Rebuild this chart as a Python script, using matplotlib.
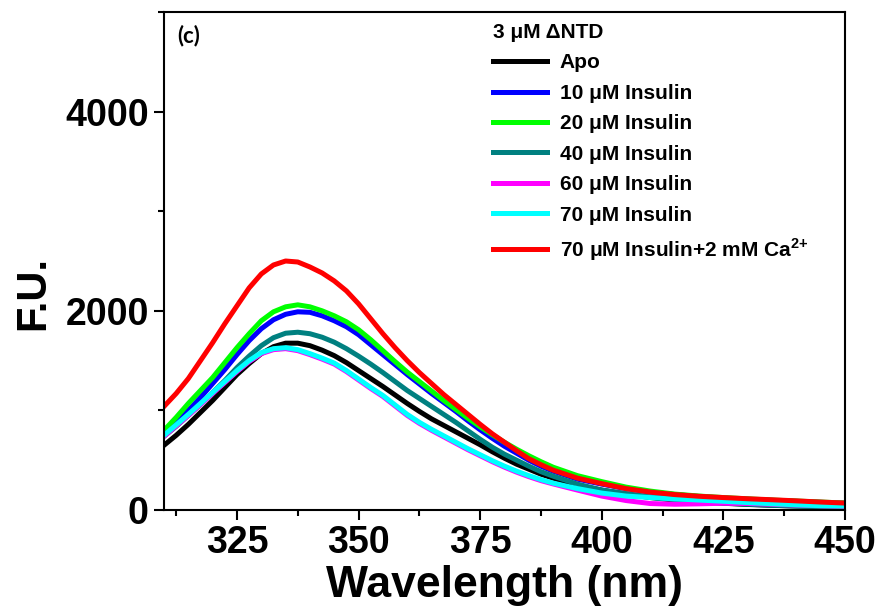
import matplotlib
matplotlib.use("Agg")
import matplotlib.pyplot as plt
from matplotlib.ticker import MultipleLocator

plt.rcParams['font.family'] = ['Liberation Sans', 'DejaVu Sans']
plt.rcParams['font.weight'] = 'bold'
plt.rcParams['mathtext.fontset'] = 'custom'
plt.rcParams['mathtext.rm'] = 'Liberation Sans:bold'
plt.rcParams['mathtext.bf'] = 'Liberation Sans:bold'

# emission wavelength (nm)
wavelength = [310, 312.5, 315, 317.5, 320, 322.5, 325, 327.5, 330, 332.5, 335, 337.5, 340,
              342.5, 345, 347.5, 350, 352.5, 355, 357.5, 360, 362.5, 365, 367.5, 370, 372.5,
              375, 377.5, 380, 382.5, 385, 387.5, 390, 395, 400, 405, 410, 415, 420, 425,
              430, 435, 440, 445, 450]

# fluorescence units
apo = [650, 750, 860, 980, 1100, 1230, 1360, 1470, 1570, 1640, 1675, 1675, 1650,
       1605, 1550, 1480, 1400, 1320, 1240, 1155, 1070, 990, 915, 850, 785, 720,
       655, 585, 520, 460, 410, 360, 320, 250, 200, 160, 125, 100, 82, 68,
       56, 47, 40, 34, 30]
ins10 = [760, 880, 1000, 1130, 1270, 1410, 1560, 1700, 1820, 1910, 1965, 1990, 1985,
         1950, 1900, 1840, 1760, 1660, 1560, 1460, 1360, 1265, 1170, 1080, 990, 895,
         805, 720, 640, 570, 500, 440, 390, 310, 260, 215, 180, 155, 135, 120,
         108, 97, 87, 77, 68]
ins20 = [800, 930, 1070, 1200, 1330, 1480, 1630, 1770, 1900, 1990, 2040, 2060, 2040,
         2000, 1950, 1890, 1810, 1710, 1600, 1490, 1385, 1290, 1195, 1100, 1010, 920,
         835, 755, 680, 610, 545, 485, 430, 345, 285, 230, 190, 160, 140, 125,
         112, 100, 90, 80, 70]
ins40 = [740, 840, 950, 1060, 1180, 1300, 1430, 1545, 1650, 1730, 1775, 1785, 1770,
         1735, 1685, 1620, 1545, 1465, 1380, 1290, 1200, 1120, 1040, 960, 880, 795,
         710, 630, 560, 500, 440, 385, 340, 260, 200, 165, 130, 105, 85, 70,
         58, 48, 40, 34, 30]
ins60 = [740, 845, 950, 1060, 1170, 1280, 1390, 1490, 1570, 1610, 1620, 1600, 1560,
         1515, 1465, 1390, 1305, 1220, 1140, 1045, 950, 870, 800, 735, 670, 605,
         545, 485, 430, 380, 335, 295, 262, 200, 140, 95, 65, 58, 62, 68,
         66, 58, 50, 43, 38]
ins70 = [750, 855, 960, 1070, 1180, 1290, 1400, 1500, 1580, 1620, 1630, 1610, 1570,
         1525, 1475, 1400, 1315, 1230, 1150, 1055, 960, 880, 810, 745, 680, 615,
         555, 495, 440, 390, 345, 305, 270, 215, 170, 140, 125, 112, 100, 88,
         75, 63, 52, 44, 40]
ins70_ca = [1040, 1170, 1320, 1500, 1680, 1870, 2050, 2230, 2370, 2460, 2500, 2490, 2440,
            2380, 2300, 2200, 2070, 1920, 1770, 1630, 1500, 1380, 1270, 1160, 1060, 960,
            860, 765, 680, 595, 515, 455, 400, 320, 265, 215, 180, 155, 138, 125,
            113, 103, 92, 80, 70]

series = [apo, ins10, ins20, ins40, ins60, ins70, ins70_ca]
labels = ['Apo', '10 μM Insulin', '20 μM Insulin', '40 μM Insulin', '60 μM Insulin',
          '70 μM Insulin', '70 μM Insulin+2 mM Ca$^{2{+}}$']
colors = ['#000000', '#0000ff', '#00ff00', '#008080', '#ff00ff', '#00ffff', '#ff0000']

fig = plt.figure(figsize=(8.79, 6.15), dpi=100)
ax = fig.add_axes([0.1866, 0.1707, 0.7747, 0.8098])

for y, lab, c in zip(series, labels, colors):
    ax.plot(wavelength, y, color=c, lw=3.6, label=lab, solid_joinstyle='round')

ax.set_xlim(310, 450)
ax.set_ylim(0, 5000)
ax.xaxis.set_major_locator(MultipleLocator(25))
ax.xaxis.set_minor_locator(MultipleLocator(12.5))
ax.yaxis.set_major_locator(MultipleLocator(2000))
ax.yaxis.set_minor_locator(MultipleLocator(1000))

for s in ax.spines.values():
    s.set_linewidth(1.5)
ax.tick_params(which='major', direction='out', length=7, width=1.5, labelsize=27, pad=4)
ax.tick_params(which='minor', direction='out', length=4, width=1.5)
for t in ax.get_xticklabels() + ax.get_yticklabels():
    t.set_fontweight('bold')

ax.set_xlabel('Wavelength (nm)', fontsize=32, fontweight='bold')
ax.set_ylabel('F.U.', fontsize=30, fontweight='bold')
ax.xaxis.set_label_coords(0.5, -0.11)
ax.yaxis.set_label_coords(-0.163, 0.436)

ax.text(0.02, 0.975, '(c)', transform=ax.transAxes, fontsize=16, fontweight='bold',
        family=['Lato', 'DejaVu Sans'], va='top', ha='left')

leg = ax.legend(loc='upper left', bbox_to_anchor=(0.483, 0.978), frameon=False,
                title='3 μM ΔNTD', fontsize=15, title_fontsize=15,
                handlelength=2.6, handletextpad=0.6, labelspacing=0.55,
                borderpad=0, borderaxespad=0)
leg._legend_box.align = 'left'
leg.get_title().set_fontweight('bold')
for line in leg.get_lines():
    line.set_linewidth(3.6)

fig.savefig('out.png', dpi=100)
